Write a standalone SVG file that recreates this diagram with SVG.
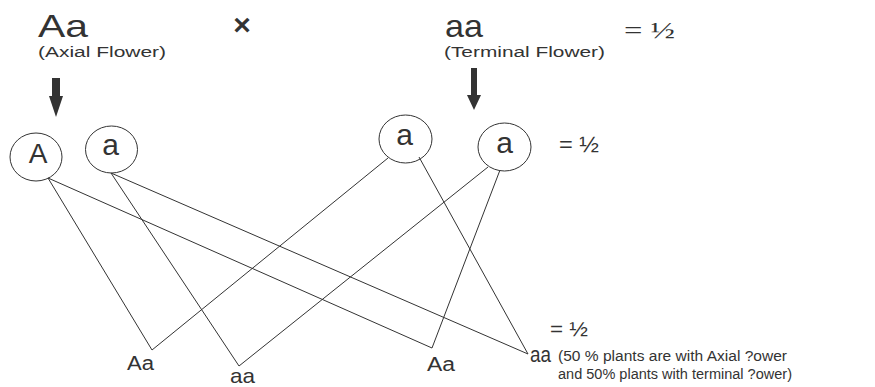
<svg xmlns="http://www.w3.org/2000/svg" width="875" height="387" viewBox="0 0 875 387">
<style>
.t{font-family:"Liberation Sans",Arial,sans-serif;fill:#333}
.s{font-family:"Liberation Serif","Times New Roman",serif;fill:#333}
.c{fill:none;stroke:#333;stroke-width:1}
.l{stroke:#333;stroke-width:1;fill:none}
.ar{fill:#333}
</style>
<rect width="875" height="387" fill="#fff"/>
<g id="parent-Aa">
<text class="t" x="38" y="37" font-size="32" textLength="50" lengthAdjust="spacingAndGlyphs">Aa</text>
<text class="t" x="38" y="57" font-size="15.5" textLength="128" lengthAdjust="spacingAndGlyphs">(Axial Flower)</text>
</g>
<g id="cross"><text class="t" x="242" y="35" font-size="30" font-weight="bold" text-anchor="middle">×</text></g>
<g id="parent-aa">
<text class="t" x="445" y="37" font-size="32" textLength="38" lengthAdjust="spacingAndGlyphs">aa</text>
<text class="t" x="444" y="57" font-size="15.5" textLength="161" lengthAdjust="spacingAndGlyphs">(Terminal Flower)</text>
</g>
<g id="ratio-top"><text class="s" x="624" y="38" font-size="24" textLength="51" lengthAdjust="spacingAndGlyphs">= ½</text></g>
<g id="arrow-left">
<rect class="ar" x="52" y="78" width="8" height="19"/>
<polygon class="ar" points="49,96 63,96 56,117"/>
</g>
<g id="arrow-right">
<rect class="ar" x="471" y="68" width="6" height="28"/>
<polygon class="ar" points="467,95 481,95 474,110"/>
</g>
<g id="gamete-A">
<ellipse class="c" cx="36" cy="157" rx="26" ry="24"/>
<text class="t" x="38" y="163" font-size="28" text-anchor="middle">A</text>
</g>
<g id="gamete-a1">
<ellipse class="c" cx="111.5" cy="149.5" rx="26" ry="23.5"/>
<text class="t" x="110.5" y="155" font-size="30" text-anchor="middle">a</text>
</g>
<g id="gamete-a2">
<ellipse class="c" cx="405.5" cy="139" rx="26.5" ry="24"/>
<text class="t" x="404.5" y="145" font-size="30" text-anchor="middle">a</text>
</g>
<g id="gamete-a3">
<ellipse class="c" cx="504.5" cy="147" rx="26.5" ry="24"/>
<text class="t" x="504.5" y="153" font-size="30" text-anchor="middle">a</text>
</g>
<g id="ratio-mid"><text class="t" x="559" y="152" font-size="22" textLength="40" lengthAdjust="spacingAndGlyphs">= ½</text></g>
<g id="connectors">
<line class="l" x1="48" y1="178" x2="152" y2="350"/>
<line class="l" x1="48" y1="178" x2="432" y2="348"/>
<line class="l" x1="111" y1="173" x2="239" y2="366"/>
<line class="l" x1="111" y1="173" x2="528" y2="354"/>
<line class="l" x1="388" y1="158" x2="152" y2="350"/>
<line class="l" x1="419" y1="157" x2="528" y2="354"/>
<line class="l" x1="488" y1="167" x2="239" y2="366"/>
<line class="l" x1="500" y1="170" x2="432" y2="348"/>
</g>
<g id="off-Aa1"><text class="t" x="127" y="370" font-size="20" textLength="27" lengthAdjust="spacingAndGlyphs">Aa</text></g>
<g id="off-aa1"><text class="t" x="230" y="383" font-size="21" textLength="25" lengthAdjust="spacingAndGlyphs">aa</text></g>
<g id="off-Aa2"><text class="t" x="427" y="371" font-size="20" textLength="28" lengthAdjust="spacingAndGlyphs">Aa</text></g>
<g id="ratio-bottom"><text class="t" x="550" y="336" font-size="21" textLength="38" lengthAdjust="spacingAndGlyphs">= ½</text></g>
<g id="off-aa2">
<text class="t" x="530" y="362" font-size="22" textLength="21" lengthAdjust="spacingAndGlyphs">aa</text>
<text class="t" x="558" y="361" font-size="15.5" textLength="229" lengthAdjust="spacingAndGlyphs">(50 % plants are with Axial ?ower</text>
<text class="t" x="558" y="379" font-size="15.5" textLength="234" lengthAdjust="spacingAndGlyphs">and 50% plants with terminal ?ower)</text>
</g>
</svg>
